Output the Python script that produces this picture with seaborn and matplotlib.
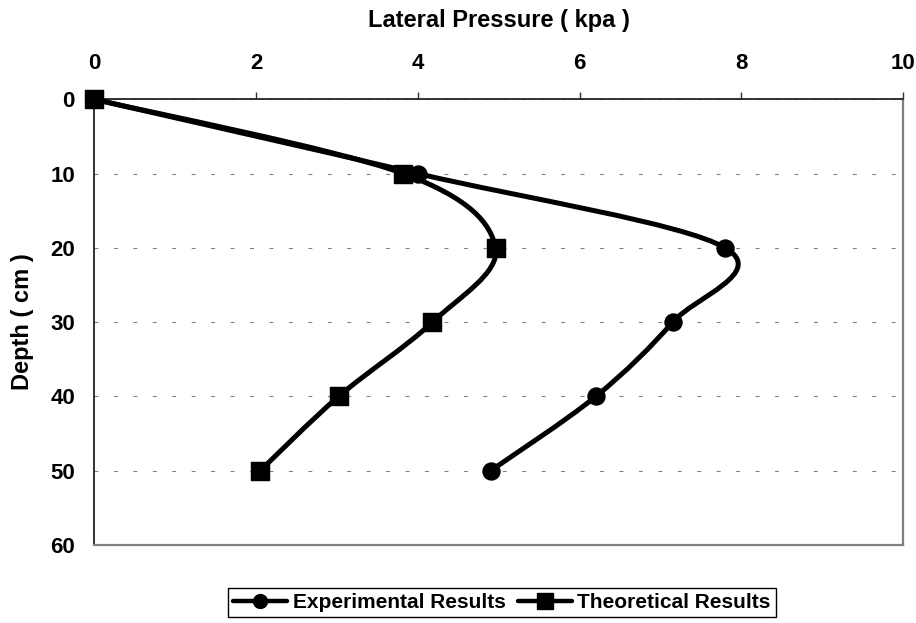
import matplotlib
matplotlib.use("Agg")
import matplotlib.pyplot as plt
import numpy as np
import pandas as pd
import seaborn as sns
from matplotlib.lines import Line2D
from matplotlib.patches import PathPatch
from matplotlib.path import Path

# values
depth = [0, 10, 20, 30, 40, 50]
experimental = [0.0, 4.0, 7.8, 7.15, 6.2, 4.9]
theoretical = [0.0, 3.82, 4.96, 4.18, 3.02, 2.05]
x_ticks = [0, 2, 4, 6, 8, 10]
y_ticks = [0, 10, 20, 30, 40, 50, 60]
series_names = ["Experimental Results", "Theoretical Results"]


def smooth_path(xs, ys):
    # Excel-style smoothed line: Catmull-Rom segments as cubic Beziers through the data points
    pts = np.column_stack([xs, ys]).astype(float)
    n = len(pts)
    verts = [pts[0]]
    codes = [Path.MOVETO]
    for i in range(n - 1):
        p0 = pts[i - 1] if i > 0 else pts[i]
        p1, p2 = pts[i], pts[i + 1]
        p3 = pts[i + 2] if i + 2 < n else pts[i + 1]
        verts += [p1 + (p2 - p0) / 6, p2 - (p3 - p1) / 6, p2]
        codes += [Path.CURVE4] * 3
    return Path(verts, codes)


sns.set_style("white")
plt.rcParams["font.family"] = ["Liberation Sans", "DejaVu Sans"]
plt.rcParams["font.weight"] = "bold"
plt.rcParams["text.color"] = "black"

df = pd.DataFrame({
    "depth": depth * 2,
    "pressure": experimental + theoretical,
    "series": [series_names[0]] * len(depth) + [series_names[1]] * len(depth),
})

fig = plt.figure(figsize=(9.16, 6.23), dpi=100)
ax = fig.add_axes([0.103, 0.1252, 0.883, 0.7154])

for vals in (experimental, theoretical):
    ax.add_patch(PathPatch(smooth_path(vals, depth), facecolor="none",
                           edgecolor="black", linewidth=3.6, zorder=3,
                           capstyle="round", joinstyle="round", clip_on=False))

sns.scatterplot(data=df[df["series"] == series_names[0]], x="pressure", y="depth",
                marker="o", color="black", edgecolor="black", s=150,
                legend=False, ax=ax, zorder=4, clip_on=False)
sns.scatterplot(data=df[df["series"] == series_names[1]], x="pressure", y="depth",
                marker="s", color="black", edgecolor="black", s=165,
                legend=False, ax=ax, zorder=4, clip_on=False)

ax.set_xlim(0, 10)
ax.set_ylim(60, 0)
ax.set_xticks(x_ticks)
ax.set_yticks(y_ticks)
ax.xaxis.tick_top()
ax.set_xlabel("")
ax.set_ylabel("")
ax.tick_params(axis="x", direction="out", length=5, width=1, pad=13,
               labelsize=16, color="#333333", labelcolor="black")
ax.tick_params(axis="y", direction="out", length=6, width=1, pad=8,
               labelsize=16, color="#333333", labelcolor="black")
for lab in ax.get_xticklabels() + ax.get_yticklabels():
    lab.set_fontweight("bold")

ax.yaxis.grid(True, color="#808080", linewidth=0.8, linestyle=(0, (3.5, 14)))
ax.xaxis.grid(False)

for side in ("top", "left"):
    ax.spines[side].set_color("#222222")
    ax.spines[side].set_linewidth(1.3)
for side in ("right", "bottom"):
    ax.spines[side].set_color("#808080")
    ax.spines[side].set_linewidth(1.6)

fig.text(0.5444, 1 - 20 / 623, "Lateral Pressure ( kpa )", ha="center", va="center",
         fontsize=17, fontweight="bold")
fig.text(0.025, 1 - 322 / 623, "Depth ( cm )", ha="center", va="center",
         rotation=90, fontsize=17, fontweight="bold")

handles = [
    Line2D([], [], color="black", linewidth=3.2, marker="o", markersize=10),
    Line2D([], [], color="black", linewidth=3.2, marker="s", markersize=11),
]
fig.legend(handles, series_names, loc="upper center",
           bbox_to_anchor=(0.548, 1 - 588 / 623), ncol=2, frameon=True,
           fancybox=False, edgecolor="black", framealpha=1,
           prop={"size": 15, "weight": "bold"}, handlelength=2.6,
           handletextpad=0.25, columnspacing=0.6, borderpad=0.25,
           borderaxespad=0)

fig.savefig("out.png", dpi=100)
